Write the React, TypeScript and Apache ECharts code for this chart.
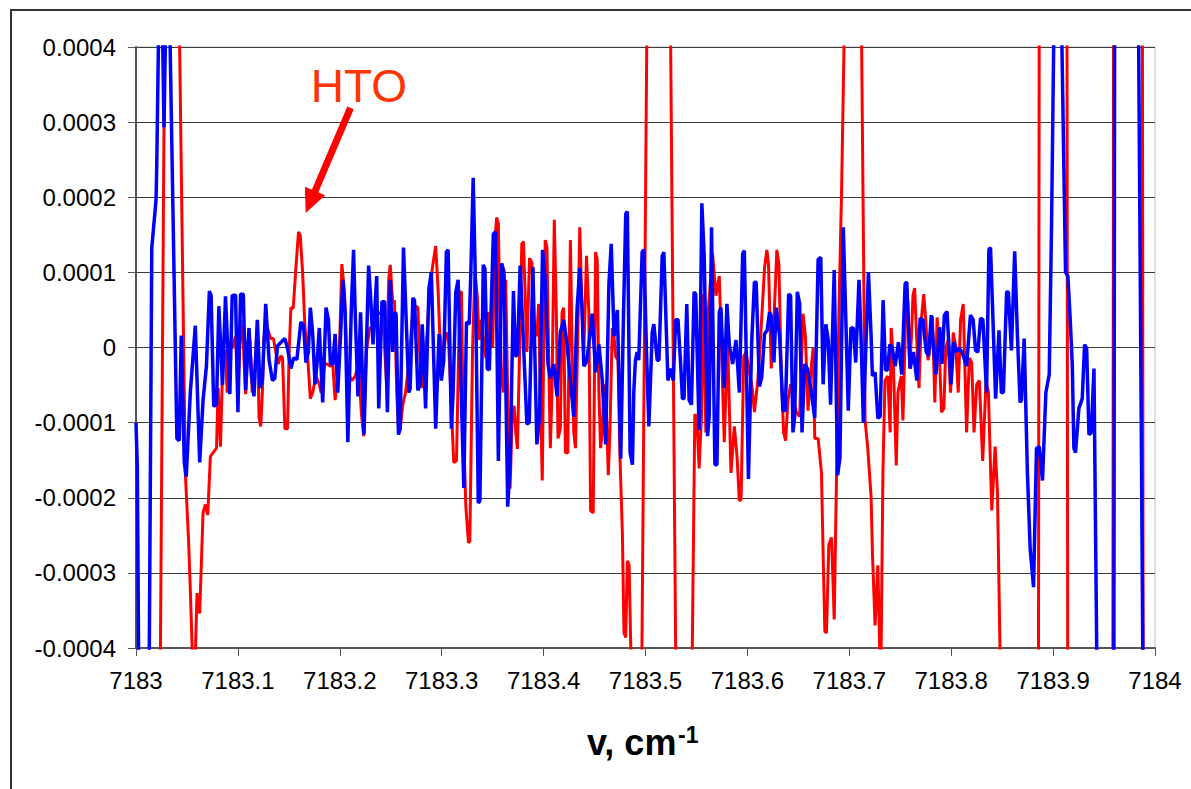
import React, { useEffect, useRef } from "react";
import * as echarts from "echarts";

// Wavenumber axis: 7183 .. 7184 cm-1; points stored as [offset in 0.001 cm-1 from 7183, value in 1e-4 units]
const X_START = 7183;
const X_END = 7184;
const X_STEP = 0.1;
const Y_MIN = -0.0004;
const Y_MAX = 0.0004;
const Y_STEP = 0.0001;
const Y_UNIT = 1e-4;

const BLUE_POINTS: number[][] = [
  [0, -1.0], [1.3, -1.6], [8, -15], [15.5, 1.33], [19.7, 1.97], [20.4, 2.45], [24, 6], [27.5, 2.93], [31, 6],
  [40.1, -1.21], [42.4, -1.24], [44.4, 0.16], [47.4, -1.53], [49.3, -1.72], [53.3, -0.6], [58.2, 0.29],
  [62.5, -1.53], [65.8, -0.7], [69.1, -0.25], [72.0, 0.75], [73.7, 0.69], [76.3, -0.78], [79, -0.76],
  [81.3, 0.55], [84.9, -0.5], [87.8, 0.68], [92.1, -0.62], [94.4, 0.69], [97.7, 0.7], [100, -0.86],
  [102.6, 0.71], [105.3, 0.71], [107.6, -0.57], [110.9, 0.26], [113.2, -0.36], [115.8, -0.65], [119.1, 0.37],
  [121.7, -0.54], [124, -0.44], [127.3, 0.58], [130.6, -0.17], [133.9, -0.44], [136.2, -0.41], [138.8, 0.02],
  [143.8, 0.09], [146.1, 0.12], [148.7, -0.01], [152, -0.28], [154.6, -0.14], [157.9, -0.16], [161.8, 0.34],
  [164.5, 0.29], [166.8, -0.2], [169.1, -0.06], [171.1, 0.53], [173.4, 0.18], [175.7, -0.49], [177.6, -0.22],
  [179.9, 0.26], [183.2, -0.73], [186.5, 0.53], [188.8, 0.37], [190.8, -0.22], [193.1, -0.22], [195.4, 0.18],
  [198, -0.6], [200.7, 0.15], [203, 0.9], [205.3, 0.45], [207.9, -1.26], [211.2, 0.47], [213.5, 1.3],
  [215.1, 0.47], [217.8, -0.65], [220.4, 0.47], [223.7, -1.16], [228.3, 1.09], [230.3, 0.66], [232.6, 0.04],
  [234.2, 0.45], [236.2, 0.95], [238.2, -0.81], [241.4, 0.61], [244.1, 0.61], [246.7, -0.86], [249.5, 0.9],
  [252, -0.06], [253.6, 0.47], [255.2, 0.45], [257.6, -1.16], [259.2, -1.08], [262.5, 1.33], [267.8, -0.6],
  [269, -0.55], [271.7, 0.66], [273.3, 0.63], [276.6, -0.57], [278.9, -0.49], [280.9, 0.31], [284.2, -0.81],
  [287.5, 0.79], [289.8, 1.0], [294.1, -1.08], [297.4, 0.18], [299.7, -0.44], [302, -0.17], [304.6, 1.27],
  [306.3, 1.3], [309.5, -1.08], [311.2, -0.6], [313.8, 0.73], [316.1, 0.9], [318.4, -0.22], [321.7, -1.87],
  [324.3, 0.34], [327, 0.31], [328.6, 1.0], [330.9, 2.26], [333.2, 0.79], [335.9, -2.07], [337.5, -2.04],
  [340.8, 1.1], [342.4, 1.05], [344.7, -0.28], [346.7, -0.3], [350.7, 1.51], [353, 1.54], [355.6, -1.51],
  [358.9, 1.12], [361.2, 1.0], [364.8, -2.12], [367.1, -1.56], [370.4, 0.75], [372.4, -0.12], [374.3, -0.09],
  [377, 1.09], [380.3, 0.04], [383.6, -1.02], [385.9, -1.0], [389.5, 1.07], [393.4, -1.29], [396, -0.92],
  [399, 1.3], [401.6, 0.9], [404.3, -0.22], [406.6, -0.41], [409.9, -0.22], [413.2, -0.65], [416.4, 0.2],
  [419.7, 0.37], [423, 0.04], [426.3, -0.44], [429.6, -0.92], [432.9, 0.53], [435.5, 1.06], [437.8, 0.47],
  [439.5, -0.25], [442.1, -0.19], [444.4, 0.04], [447.7, 0.45], [451, -0.33], [454.3, 0.04], [457.6, -0.44],
  [460.9, -1.29], [464.1, 0.85], [466.4, 1.38], [469.1, 0.15], [472.4, 0.5], [475.7, -1.48], [478.3, 0.37],
  [480.6, 1.78], [482.2, 1.81], [484.9, -1.4], [487.2, -1.56], [488.5, -0.6], [490.1, -0.17], [491.8, -0.06],
  [493.4, -0.17], [496.7, 1.27], [498.4, 1.3], [501, -0.06], [503.3, -1.05], [506.6, 0.2], [508.2, 0.31],
  [511.5, -0.17], [513.2, -0.17], [516.4, 1.22], [518, 1.27], [522, -0.44], [524.7, -0.28], [527.3, -0.44],
  [529.6, 0.37], [531.9, 0.37], [534.5, -0.22], [536.2, -0.68], [537.8, -0.68], [540.5, 0.58], [542.8, -0.7],
  [545.1, -0.76], [547.7, 0.74], [549.3, 0.71], [552.6, -1.1], [555.3, 1.92], [557.6, 1.22], [560.9, -1.18],
  [562.5, -0.92], [564.8, 1.6], [568.1, -1.56], [570.1, -1.56], [572.4, 0.47], [574, 0.53], [577.3, -0.54],
  [579.9, 0.58], [582.2, 0.04], [585.5, -0.22], [588.8, 0.1], [592.1, -0.6], [595.4, 1.25], [597, 1.29],
  [601, -1.75], [604.3, 0.1], [606.9, 0.87], [608.6, 0.87], [611.8, -0.52], [614.1, -0.39], [616.8, 0.18],
  [619.4, 0.23], [621.7, 0.47], [623.4, 0.42], [626, -0.2], [628.3, 0.53], [631.6, 0.15], [634.9, -0.84],
  [637.2, -0.84], [640.5, 0.71], [642.4, 0.69], [644.7, -1.13], [646.4, -0.92], [649, 0.74], [651.3, 0.58],
  [653.6, -1.13], [656.3, -0.22], [658.9, -0.28], [662.8, -0.6], [666.1, -0.94], [669.4, 1.17], [672, 1.2],
  [674.3, -0.49], [677, 0.31], [679.3, 0.1], [681.6, -0.76], [685.2, 1.03], [687.2, -0.6], [688.5, -1.7],
  [690.8, -1.47], [694.1, 1.6], [696.4, 0.47], [699, -0.84], [701.6, 0.26], [703.9, 0.26], [706.3, -0.2],
  [709.5, 0.9], [711.5, 0.15], [713.8, -1.0], [716.1, -0.06], [718.8, 1.0], [721.4, 0.15], [722.7, -0.38],
  [725.3, -0.33], [728, -0.94], [730.3, -0.92], [733.2, 0.63], [735.5, -0.3], [737.5, -0.3], [739.8, 0.04],
  [742, 0.0], [745, -0.25], [748.2, 0.07], [751.5, -0.36], [754.8, 0.85], [756.4, 0.87], [759.7, -0.28],
  [763, -0.06], [766.3, -0.44], [769.6, 0.39], [772.2, 0.37], [775.5, -0.06], [777.8, -0.11], [780.4, 0.43],
  [782.7, -0.01], [785, -0.36], [788.7, 0.27], [791, -0.22], [793.3, 0.43], [795.9, 0.48], [799.8, -0.49],
  [802.5, 0.07], [805.1, -0.06], [807.7, -0.01], [810.7, -0.06], [815, -0.25], [818.9, 0.43], [821.5, 0.37],
  [823.9, -0.04], [826.2, -0.06], [828.8, 0.39], [831.1, 0.37], [834.7, -0.6], [837, 1.3], [838.6, 1.33],
  [843.6, -0.68], [846.9, 0.23], [849.2, -0.6], [851.2, -0.6], [854.4, 0.74], [856.1, 0.74], [859.1, -0.04],
  [862.3, 1.28], [865, 0.15], [867.6, -0.73], [868.9, -0.7], [871.6, 0.12], [874.8, -1.67], [877.5, -2.68],
  [880.8, -3.19], [883.7, -1.34], [886.4, -1.32], [889.6, -1.77], [892.9, -0.6], [896.2, -0.36], [898.5, 1.65],
  [904, 8], [912.2, 1.0], [914.5, 0.95], [916.8, 0.37], [918.8, -0.22], [920.4, -1.34], [922, -1.4],
  [925.3, -0.81], [928.6, -0.68], [930.9, 0.04], [932.9, -0.01], [935.2, -1.16], [937.5, -1.13], [940.1, -0.28],
  [943, -4.3], [950, -40], [955, -60], [965, 60], [975, 60], [980, 12], [990, -8], [1000, -20]
];

const RED_POINTS: number[][] = [
  [0, -15], [12, -18], [22, -8], [33, 14], [48.4, -1.67], [51.6, -2.57], [53.3, -3.22], [56.5, -4.6],
  [58.2, -4.1], [59.9, -3.27], [62.5, -3.54], [65.8, -2.2], [68.1, -2.09], [70.4, -2.23], [73, -1.45],
  [75.7, -1.4], [79, -1.34], [80.6, -0.54], [82.9, -1.32], [85.5, -0.01], [87.8, -0.06], [89.5, -0.6],
  [92.1, 0.04], [94.4, -0.01], [97.7, 0.15], [100, -0.6], [102.6, 0.37], [105.3, 0.04], [107.6, -0.62],
  [109.9, 0.1], [111.8, 0.1], [114.1, -0.6], [116.4, -0.33], [119.1, 0.34], [120.7, -0.92], [122.4, -1.05],
  [124, -0.6], [125.7, 0.15], [128.9, 0.26], [132.2, 0.12], [134.9, 0.12], [137.2, -0.06], [139.5, -0.22],
  [142.1, -0.11], [143.8, -0.14], [146.1, -1.08], [148.7, -1.08], [150.3, -0.06], [152, 0.53], [154.3, 0.52],
  [156.9, 1.06], [159.5, 1.54], [161.2, 1.49], [163.5, 1.0], [165.8, 0.26], [168.4, -0.11], [171.1, -0.68],
  [173.4, -0.6], [176.6, -0.38], [179.9, -0.49], [181.6, -0.6], [184.9, -0.22], [187.5, -0.22], [190.8, -0.25],
  [193.1, -0.22], [195.4, -0.7], [197.4, -0.49], [199.7, -0.01], [202, 1.11], [204.6, 0.74], [207.2, -0.33],
  [209.5, -0.38], [211.8, -0.44], [215.1, -0.38], [218.4, -0.22], [221.1, -0.86], [223.4, -1.18], [226, -0.06],
  [229.3, 0.26], [231.6, 0.26], [234.2, 0.47], [237.5, 0.45], [240.8, 0.47], [243.4, 0.15], [245.7, -0.44],
  [248, 0.9], [249.5, 1.1], [252, 0.58], [253.6, 0.63], [255.9, -0.6], [257.6, -1.1], [259.2, -1.1],
  [261.8, -0.76], [264.5, -0.6], [266.8, -0.33], [271.7, 0.47], [275, 0.55], [276.6, 0.53], [278.9, -0.22],
  [280.9, -0.54], [283.2, -0.06], [285.5, 0.15], [288.2, 0.79], [291.4, 1.11], [294.1, 1.35], [296.4, 0.79],
  [298, 0.2], [301.3, -0.12], [303.9, 0.15], [306.3, 0.2], [308.6, -0.49], [311.8, -1.53], [314.5, -1.51],
  [317.8, 0.74], [319.4, 0.74], [321, -0.9], [323.7, -2.12], [326.3, -2.6], [327.6, -2.58], [330.3, 0.0],
  [332.6, 1.0], [334.9, 0.68], [336.8, 0.1], [339.1, 0.37], [341.4, 0.05], [343.4, -0.14], [345.7, 0.47],
  [348, 0.04], [350, 0.0], [352.3, 1.43], [353.9, 1.73], [355.6, 1.65], [357.9, -0.28], [360.5, -0.6],
  [362.8, 0.9], [364.8, -0.65], [367.1, -1.88], [369.4, -0.81], [371.1, -0.78], [372.7, -1.13], [374.3, -1.35],
  [376.3, -0.14], [378.6, 1.38], [380.3, 1.41], [383.6, -0.06], [386.2, 1.19], [388.5, 1.13], [390.8, 0.26],
  [393.4, 0.15], [395.1, 0.58], [396.7, -0.6], [398.7, -1.77], [400, -0.06], [401.6, 1.43], [403.3, 1.33],
  [404.9, -0.06], [406.6, -1.34], [408.2, -0.6], [410.5, 1.7], [412.5, 0.47], [414.1, -1.21], [416.4, -1.08],
  [418.1, 0.47], [419.7, 0.53], [421.4, -1.4], [423.7, -1.4], [426.3, 1.43], [427.9, 0.04], [429.6, -1.13],
  [431.3, -1.34], [433.6, 0.2], [435.5, 1.6], [437.8, 0.47], [439.5, -0.06], [442.1, 1.22], [444.4, 0.47],
  [446.1, -2.17], [448.7, -2.2], [451, 1.27], [452.6, 1.17], [454.3, -0.6], [455.9, -1.34], [457.6, -1.13],
  [459.2, -0.49], [461.8, -0.92], [463.5, -1.7], [465.1, -1.13], [467.4, 0.26], [469.1, 0.15], [470.7, -0.12],
  [473, -0.17], [475, -1.48], [477.3, -2.47], [478.9, -3.8], [480.6, -3.86], [482.2, -2.84], [483.9, -2.9],
  [485.5, -3.96], [487.2, -4.5], [493, -10], [512.7, 23.6], [536.7, -15.6], [548.4, -0.89], [550.3, -0.92],
  [552.6, -1.61], [554.9, -0.92], [556.9, 0.71], [559.2, -1.13], [561.5, 0.47], [565.8, 1.25], [569.1, 0.69],
  [572.4, 0.95], [574.7, -0.06], [577.3, -1.26], [580.6, 0.1], [583.9, -1.67], [587.2, -1.05], [589.8, -1.45],
  [592.1, -2.04], [593.8, -2.02], [596.4, -0.12], [598.7, -0.06], [602, -0.33], [604.3, -0.49], [606.9, -0.86],
  [610.2, -0.44], [613.5, 0.26], [616.8, 1.06], [619.1, 1.3], [620.7, 1.11], [623.4, -0.28], [626, 0.36],
  [628.9, 1.3], [630.9, 1.11], [633.2, -0.33], [635.5, -1.13], [637.5, -1.24], [639.8, -0.71], [642.4, -0.49],
  [644.7, -0.65], [648, -0.86], [651.3, -0.92], [654.6, 0.45], [656.9, 0.15], [659.5, -0.84], [662.2, -0.33],
  [664.5, -0.01], [666.1, -1.21], [669.4, -1.21], [672.7, -1.67], [674.3, -2.73], [676, -3.78], [677.6, -3.8],
  [679.9, -2.63], [682.6, -2.53], [685.2, -3.62], [687.5, -1.67], [689.8, 0.47], [692.4, 2.07], [706, 13],
  [715.5, -0.97], [718.1, -1.34], [721.4, -1.99], [722.7, -2.73], [725.3, -3.7], [728, -2.9], [730.8, -4.6],
  [733, -1.67], [735, -0.44], [737.8, -0.38], [740.1, -1.13], [741.1, 0.26], [743, -0.1], [746.1, -1.57],
  [747.7, -0.6], [751, -0.38], [752.6, -0.97], [755.9, 0.71], [757.5, 0.6], [759.2, -0.28], [760.9, 0.13],
  [762.5, 0.69], [764.1, 0.79], [766.4, 0.04], [768.4, -0.54], [770.7, 0.37], [773, 0.71], [775, 0.37],
  [777.3, -0.17], [779, -0.01], [781.6, 0.42], [783.9, -0.73], [786.2, 0.4], [788.2, -0.01], [790.5, -0.86],
  [792.8, -0.81], [794.7, 0.0], [797, 0.1], [799.3, -0.6], [802, 0.2], [804.6, -0.01], [806.9, -0.6],
  [809.2, 0.37], [811.8, 0.58], [815.1, -1.13], [817.8, -0.14], [820.1, -0.2], [822.4, -1.13], [825, -0.49],
  [827.6, -0.44], [830.9, -1.51], [834.2, -0.44], [836.5, -0.6], [839.8, -2.17], [843.1, -1.32], [845.4, -1.93],
  [848, -4.1], [852, -12], [881, -60], [891, 60], [909, 60], [919, -60], [954, -60], [964, 60], [983, 60],
  [993, -60], [1000, -60]
];

// Annotation anchors (data coordinates)
const HTO_TEXT = "HTO";
const HTO_LABEL_AT = [7183.1715, 0.000348];
const ARROW_TAIL_AT = [7183.2105, 0.000319];
const ARROW_TIP_AT = [7183.1665, 0.000179];

const AXIS_TITLE = "v, cm";
const AXIS_TITLE_SUP = "-1";

const FONT = '"Liberation Sans", Arial, sans-serif';

function toSeries(points: number[][]) {
  return points.map(([x, y]) => [X_START + x / 1000, y * Y_UNIT]);
}

export default function App() {
  const ref = useRef<HTMLDivElement>(null);

  useEffect(() => {
    const el = ref.current;
    if (!el) return;
    const chart = echarts.init(el, null, { renderer: "svg" });

    chart.setOption({
      animation: false,
      backgroundColor: "#ffffff",
      grid: {
        left: 136,
        right: 36,
        top: 47,
        bottom: 141,
        show: true,
        borderColor: "#c0c0c0",
        borderWidth: 1,
        backgroundColor: "transparent",
      },
      xAxis: {
        type: "value",
        min: X_START,
        max: X_END,
        interval: X_STEP,
        axisLine: { show: true, onZero: false, lineStyle: { color: "#555555", width: 2 } },
        axisTick: { show: true, length: 8, lineStyle: { color: "#555555", width: 1 } },
        axisLabel: {
          margin: 20,
          fontSize: 24,
          color: "#000000",
          fontFamily: FONT,
          formatter: (v: number) => String(Math.round(v * 10) / 10),
        },
        splitLine: { show: false },
      },
      yAxis: {
        type: "value",
        min: Y_MIN,
        max: Y_MAX,
        interval: Y_STEP,
        axisLine: { show: true, lineStyle: { color: "#555555", width: 2 } },
        axisTick: { show: true, length: 8, lineStyle: { color: "#555555", width: 1 } },
        axisLabel: {
          margin: 20,
          fontSize: 24,
          color: "#000000",
          fontFamily: FONT,
          formatter: (v: number) => (Math.abs(v) < 1e-12 ? "0" : v.toFixed(4)),
        },
        splitLine: { show: true, lineStyle: { color: "#3c3c3c", width: 1 } },
      },
      series: [
        {
          name: "red",
          type: "line",
          data: toSeries(RED_POINTS),
          showSymbol: false,
          symbol: "none",
          clip: true,
          lineStyle: { color: "#ff0000", width: 3 },
          z: 2,
        },
        {
          name: "blue",
          type: "line",
          data: toSeries(BLUE_POINTS),
          showSymbol: false,
          symbol: "none",
          clip: true,
          lineStyle: { color: "#0000ff", width: 3.5 },
          z: 3,
        },
      ],
    });

    const label = chart.convertToPixel({ gridIndex: 0 }, HTO_LABEL_AT) as number[];
    const tail = chart.convertToPixel({ gridIndex: 0 }, ARROW_TAIL_AT) as number[];
    const tip = chart.convertToPixel({ gridIndex: 0 }, ARROW_TIP_AT) as number[];
    const dx = tip[0] - tail[0];
    const dy = tip[1] - tail[1];
    const len = Math.sqrt(dx * dx + dy * dy);
    const ux = dx / len;
    const uy = dy / len;
    const nx = -uy;
    const ny = ux;
    const headLen = 24;
    const headHalf = 11;
    const bx = tip[0] - ux * headLen;
    const by = tip[1] - uy * headLen;

    chart.setOption({
      graphic: [
        {
          type: "rect",
          silent: true,
          z: 100,
          shape: { x: 11, y: 10, width: 1300, height: 900 },
          style: { fill: "none", stroke: "#333333", lineWidth: 2 },
        },
        {
          type: "text",
          z: 100,
          style: {
            text: HTO_TEXT,
            x: label[0],
            y: label[1],
            fill: "#ff3300",
            font: `46px ${FONT}`,
            align: "left",
            verticalAlign: "middle",
          },
        },
        {
          type: "line",
          z: 100,
          shape: { x1: tail[0], y1: tail[1], x2: bx + ux * 2, y2: by + uy * 2 },
          style: { stroke: "#ff0000", lineWidth: 7 },
        },
        {
          type: "polygon",
          z: 100,
          shape: {
            points: [
              [tip[0], tip[1]],
              [bx + nx * headHalf, by + ny * headHalf],
              [bx - nx * headHalf, by - ny * headHalf],
            ],
          },
          style: { fill: "#ff0000" },
        },
        {
          type: "text",
          z: 100,
          style: {
            text: AXIS_TITLE,
            x: 587,
            y: 742,
            fill: "#000000",
            font: `bold 36px ${FONT}`,
            align: "left",
            verticalAlign: "middle",
          },
        },
        {
          type: "text",
          z: 100,
          style: {
            text: AXIS_TITLE_SUP,
            x: 678,
            y: 735,
            fill: "#000000",
            font: `bold 23px ${FONT}`,
            align: "left",
            verticalAlign: "middle",
          },
        },
      ],
    });

    return () => {
      chart.dispose();
    };
  }, []);

  return (
    <div
      ref={ref}
      style={{ position: "fixed", left: 0, top: 0, width: 1191, height: 789, background: "#ffffff" }}
    />
  );
}
